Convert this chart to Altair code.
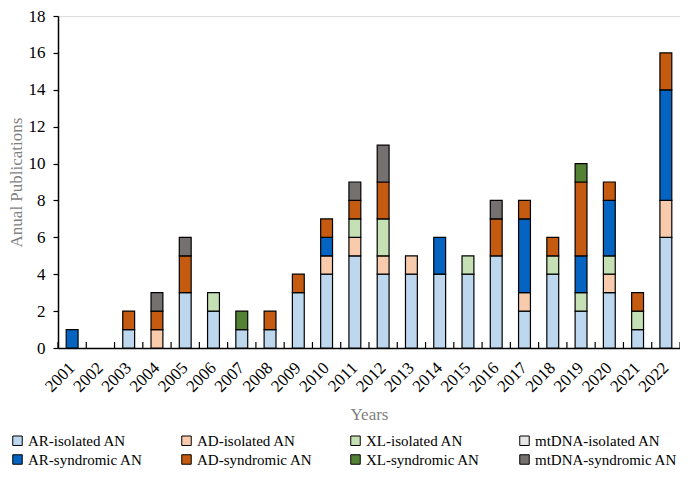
import altair as alt
import pandas as pd

years = [str(y) for y in range(2001, 2023)]
series = ["AR-isolated AN", "AD-isolated AN", "XL-isolated AN", "mtDNA-isolated AN",
          "AR-syndromic AN", "AD-syndromic AN", "XL-syndromic AN", "mtDNA-syndromic AN"]
colors = ["#bdd7ee", "#f8cbad", "#c5e0b4", "#e7e6e6",
          "#0563c1", "#c55a11", "#548235", "#767171"]

#            01 02 03 04 05 06 07 08 09 10 11 12 13 14 15 16 17 18 19 20 21 22
ar_iso   = [0, 0, 1, 0, 3, 2, 1, 1, 3, 4, 5, 4, 4, 4, 4, 5, 2, 4, 2, 3, 1, 6]
ad_iso   = [0, 0, 0, 1, 0, 0, 0, 0, 0, 1, 1, 1, 1, 0, 0, 0, 1, 0, 0, 1, 0, 2]
xl_iso   = [0, 0, 0, 0, 0, 1, 0, 0, 0, 0, 1, 2, 0, 0, 1, 0, 0, 1, 1, 1, 1, 0]
mt_iso   = [0, 0, 0, 0, 0, 0, 0, 0, 0, 0, 0, 0, 0, 0, 0, 0, 0, 0, 0, 0, 0, 0]
ar_syn   = [1, 0, 0, 0, 0, 0, 0, 0, 0, 1, 0, 0, 0, 2, 0, 0, 4, 0, 2, 3, 0, 6]
ad_syn   = [0, 0, 1, 1, 2, 0, 0, 1, 1, 1, 1, 2, 0, 0, 0, 2, 1, 1, 4, 1, 1, 2]
xl_syn   = [0, 0, 0, 0, 0, 0, 1, 0, 0, 0, 0, 0, 0, 0, 0, 0, 0, 0, 1, 0, 0, 0]
mt_syn   = [0, 0, 0, 1, 1, 0, 0, 0, 0, 0, 1, 2, 0, 0, 0, 1, 0, 0, 0, 0, 0, 0]

all_vals = [ar_iso, ad_iso, xl_iso, mt_iso, ar_syn, ad_syn, xl_syn, mt_syn]

rows = []
for si, (name, vals) in enumerate(zip(series, all_vals)):
    for y, v in zip(years, vals):
        if v > 0:
            rows.append({"year": y, "series": name, "idx": si, "count": v})
df = pd.DataFrame(rows)
df_ticks = pd.DataFrame({"year": years})

W, H = 622, 332
FONT = "Liberation Serif"
P_IN = 0.58
STEP = W / len(years)

xscale = alt.Scale(domain=years, paddingInner=P_IN, paddingOuter=P_IN / 2)

bars = alt.Chart(df).mark_bar(stroke="black", strokeWidth=1.2).encode(
    x=alt.X("year:N", scale=xscale, sort=years,
            axis=alt.Axis(title="Years", labelAngle=-45, labelFont=FONT, labelFontSize=17,
                          labelColor="black", ticks=False, domainColor="black", domainWidth=1.5,
                          labelPadding=17, titleFont=FONT, titleFontSize=17, titleFontWeight="normal",
                          titleColor="#7f7f7f", titlePadding=12, labelBaseline="middle",
                          labelAlign="right")),
    y=alt.Y("count:Q", stack="zero", scale=alt.Scale(domain=[0, 18], nice=False),
            axis=alt.Axis(title="Anual Publications", values=list(range(0, 19, 2)), grid=False,
                          labelFont=FONT, labelFontSize=17, labelColor="black", tickColor="black",
                          tickSize=5, tickWidth=1.2, domainColor="black", domainWidth=1.5,
                          labelPadding=8, titleFont=FONT, titleFontSize=17,
                          titleFontWeight="normal", titleColor="#7f7f7f", titlePadding=3)),
    color=alt.Color("series:N", scale=alt.Scale(domain=series, range=colors),
                    legend=alt.Legend(title=None, orient="none", legendX=-48, legendY=417,
                                      columns=4, direction="horizontal", gridAlign="all",
                                      symbolType="square", symbolSize=90,
                                      symbolStrokeColor="black", symbolStrokeWidth=1,
                                      labelFont=FONT, labelFontSize=15, labelColor="black",
                                      columnPadding=8, rowPadding=3, padding=0,
                                      labelOffset=3, labelLimit=300)),
    order=alt.Order("idx:Q"),
)

ticks = alt.Chart(df_ticks).mark_rule(color="black", strokeWidth=1.2,
                                       xOffset=-(P_IN / 2) * STEP).encode(
    x=alt.X("year:N", scale=xscale, sort=years, bandPosition=0),
    y=alt.value(H),
    y2=alt.value(H - 6),
)
end_tick = alt.Chart(df_ticks.head(1)).mark_rule(color="black", strokeWidth=1.2).encode(
    x=alt.value(W), y=alt.value(H), y2=alt.value(H - 6)
)

chart = alt.layer(bars, ticks, end_tick).properties(
    width=W, height=H,
    autosize=alt.AutoSizeParams(type="none"),
    padding={"left": 50, "top": 8, "right": 0, "bottom": 122},
).configure_view(stroke=None).configure(background="white")

chart.save("out.html", embed_options={"renderer": "svg", "actions": False})
